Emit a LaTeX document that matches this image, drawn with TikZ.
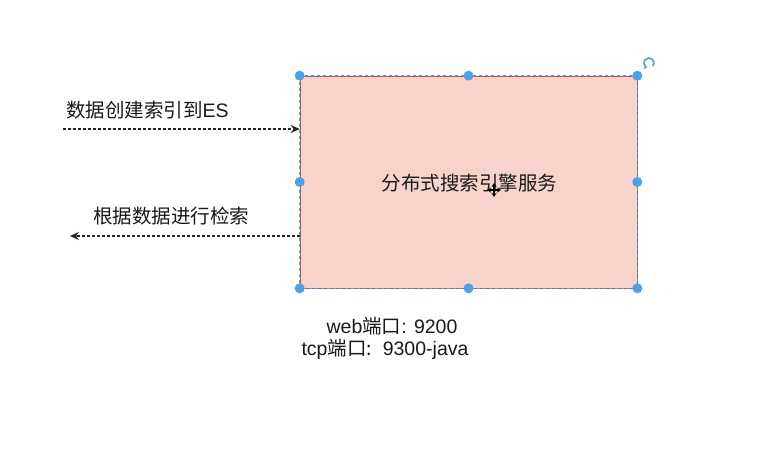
\documentclass[tikz,border=0pt]{standalone}
\usepackage{fontspec}
\setmainfont{Liberation Sans}
\newfontfamily\cjk{Noto Sans CJK SC}
\usetikzlibrary{arrows.meta}
\definecolor{boxfill}{HTML}{F8D3CB}
\definecolor{boxline}{HTML}{B85450}
\definecolor{handle}{HTML}{4AA3E8}
\tikzset{
  svcbox/.style={rectangle, fill=boxfill, draw=boxline, line width=0.6pt, minimum width=337pt, minimum height=212pt, inner sep=0pt},
  hdl/.style={circle, fill=handle, inner sep=0pt, minimum size=10pt},
  conn/.style={draw=black!85, line width=1.1pt, dash pattern=on 2.5pt off 2.5pt, -{Stealth[length=9pt,width=8pt]}},
  lbl/.style={font=\fontsize{19.5}{22}\selectfont, inner sep=0pt, text=black!90},
}
\begin{document}
\begin{tikzpicture}[x=1pt,y=-1pt]
\useasboundingbox (0,0) rectangle (772,452);
\fill[white] (0,0) rectangle (772,452);
\node[svcbox] (svc) at (468.5,182) {};
\draw[handle, line width=0.6pt, dash pattern=on 3pt off 3pt] (svc.north west) rectangle (svc.south east);
\node[lbl] (svctext) at (469.5,183) {\cjk 分布式搜索引擎服务};
% handles
\foreach \a in {north west,north,north east,west,east,south west,south,south east}
  \node[hdl] at (svc.\a) {};
% rotation icon
\coordinate (rot) at (649,63);
\draw[handle, line width=1.6pt, -{Stealth[length=3.5pt,width=5pt]}] ([shift={(-40:5pt)}]rot) arc[start angle=-40, end angle=250, radius=5pt];
% move cursor
\coordinate (mv) at (494,190);
\draw[black, line width=1.3pt, {Stealth[length=4pt,width=5pt]}-{Stealth[length=4pt,width=5pt]}] ([xshift=-7pt]mv) -- ([xshift=7pt]mv);
\draw[black, line width=1.3pt, {Stealth[length=4pt,width=5pt]}-{Stealth[length=4pt,width=5pt]}] ([yshift=-7pt]mv) -- ([yshift=7pt]mv);
% arrows
\coordinate (in) at (63,129);
\draw[conn] (in) -- (in -| svc.west);
\node[lbl] (inlbl) at (147.5,110) {\cjk 数据创建索引到\rmfamily ES};
\coordinate (out) at (70,236);
\draw[conn] (out -| svc.west) -- (out);
\node[lbl] (outlbl) at (171,216) {\cjk 根据数据进行检索};
% ports
\node[lbl] (web) at (392,326) {web{\cjk 端口}: 9200};
\node[lbl] (tcp) at (385,349) {tcp{\cjk 端口:}\ \ 9300-java};
\end{tikzpicture}
\end{document}
